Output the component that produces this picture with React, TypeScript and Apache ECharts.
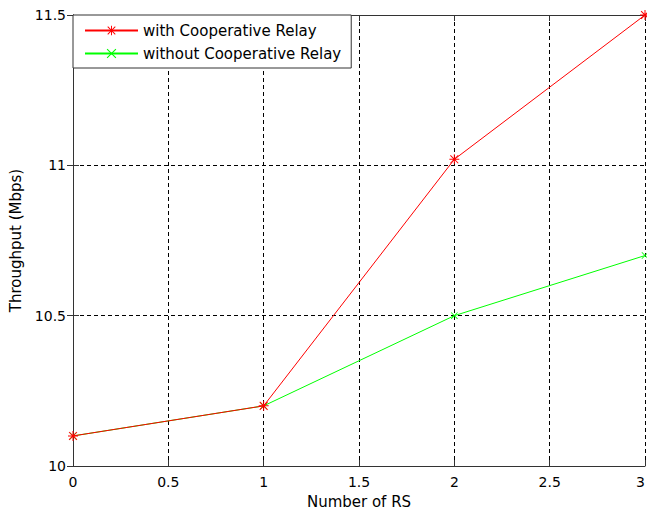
import React, { useEffect, useRef } from "react";
import * as echarts from "echarts";

const xValues = [0, 1, 2, 3];
const withRelay = [10.1, 10.2, 11.02, 11.5];
const withoutRelay = [10.1, 10.2, 10.5, 10.7];
const seriesNames = ["with Cooperative Relay", "without Cooperative Relay"];

const STAR =
  "path://M4.5 0 L5.5 0 L5.5 10 L4.5 10 Z M0 4.5 L10 4.5 L10 5.5 L0 5.5 Z M0.7 1.4 L1.4 0.7 L9.3 8.6 L8.6 9.3 Z M8.6 0.7 L9.3 1.4 L1.4 9.3 L0.7 8.6 Z";
const CROSS =
  "path://M0.7 1.4 L1.4 0.7 L9.3 8.6 L8.6 9.3 Z M8.6 0.7 L9.3 1.4 L1.4 9.3 L0.7 8.6 Z";

const FONT = "DejaVu Sans";

export default function App() {
  const ref = useRef<HTMLDivElement>(null);
  useEffect(() => {
    document.body.style.margin = "0";
    document.body.style.overflow = "hidden";
    document.documentElement.style.overflow = "hidden";
    const chart = echarts.init(ref.current!, null, { renderer: "svg" });
    const axisLine = { show: true, lineStyle: { color: "#333", width: 1 } };
    const axisTick = { show: true, inside: true, length: 6, lineStyle: { color: "#333" } };
    chart.setOption({
      animation: false,
      backgroundColor: "#fff",
      grid: {
        left: 73,
        right: 2,
        top: 15,
        bottom: 45,
        containLabel: false,
        outerBoundsMode: "none",
      },
      legend: {
        left: 73,
        top: 15,
        orient: "vertical",
        backgroundColor: "#fff",
        borderColor: "#333",
        borderWidth: 1,
        borderRadius: 0,
        padding: [8, 10, 7, 11],
        itemWidth: 53,
        itemHeight: 12,
        itemGap: 8,
        textStyle: { fontFamily: FONT, fontSize: 15, color: "#000" },
        data: seriesNames,
      },
      xAxis: [
        {
          type: "value",
          min: 0,
          max: 3,
          interval: 0.5,
          position: "bottom",
          name: "Number of RS",
          nameLocation: "middle",
          nameGap: 28,
          nameTextStyle: { fontFamily: FONT, fontSize: 15, color: "#000" },
          axisLine,
          axisTick,
          axisLabel: {
            fontFamily: FONT,
            fontSize: 14,
            color: "#000",
            margin: 9,
            alignMaxLabel: "right",
          },
          splitLine: { show: true, lineStyle: { color: "#000", type: [4, 3], width: 1 } },
        },
        {
          type: "value",
          min: 0,
          max: 3,
          interval: 0.5,
          position: "top",
          axisLine,
          axisTick,
          axisLabel: { show: false },
          splitLine: { show: false },
        },
      ],
      yAxis: [
        {
          type: "value",
          min: 10,
          max: 11.5,
          interval: 0.5,
          position: "left",
          name: "Throughput (Mbps)",
          nameLocation: "middle",
          nameGap: 44,
          nameTextStyle: { fontFamily: FONT, fontSize: 15, color: "#000" },
          axisLine,
          axisTick,
          axisLabel: { fontFamily: FONT, fontSize: 14, color: "#000", margin: 7 },
          splitLine: { show: true, lineStyle: { color: "#000", type: [4, 3], width: 1 } },
        },
        {
          type: "value",
          min: 10,
          max: 11.5,
          interval: 0.5,
          position: "right",
          axisLine,
          axisTick,
          axisLabel: { show: false },
          splitLine: { show: false },
        },
      ],
      series: [
        {
          name: seriesNames[0],
          type: "line",
          xAxisIndex: 0,
          yAxisIndex: 0,
          data: xValues.map((x, i) => [x, withRelay[i]]),
          symbol: STAR,
          symbolSize: 10,
          showAllSymbol: true,
          clip: false,
          lineStyle: { color: "#ff0000", width: 1 },
          itemStyle: { color: "#ff0000" },
          z: 3,
        },
        {
          name: seriesNames[1],
          type: "line",
          xAxisIndex: 0,
          yAxisIndex: 0,
          data: xValues.map((x, i) => [x, withoutRelay[i]]),
          symbol: CROSS,
          symbolSize: 7,
          showAllSymbol: true,
          clip: false,
          lineStyle: { color: "#00ff00", width: 1 },
          itemStyle: { color: "#00ff00" },
          z: 2,
        },
      ],
    });
    return () => chart.dispose();
  }, []);
  return (
    <div
      ref={ref}
      style={{ position: "fixed", left: 0, top: 0, width: 647, height: 511 }}
    />
  );
}
